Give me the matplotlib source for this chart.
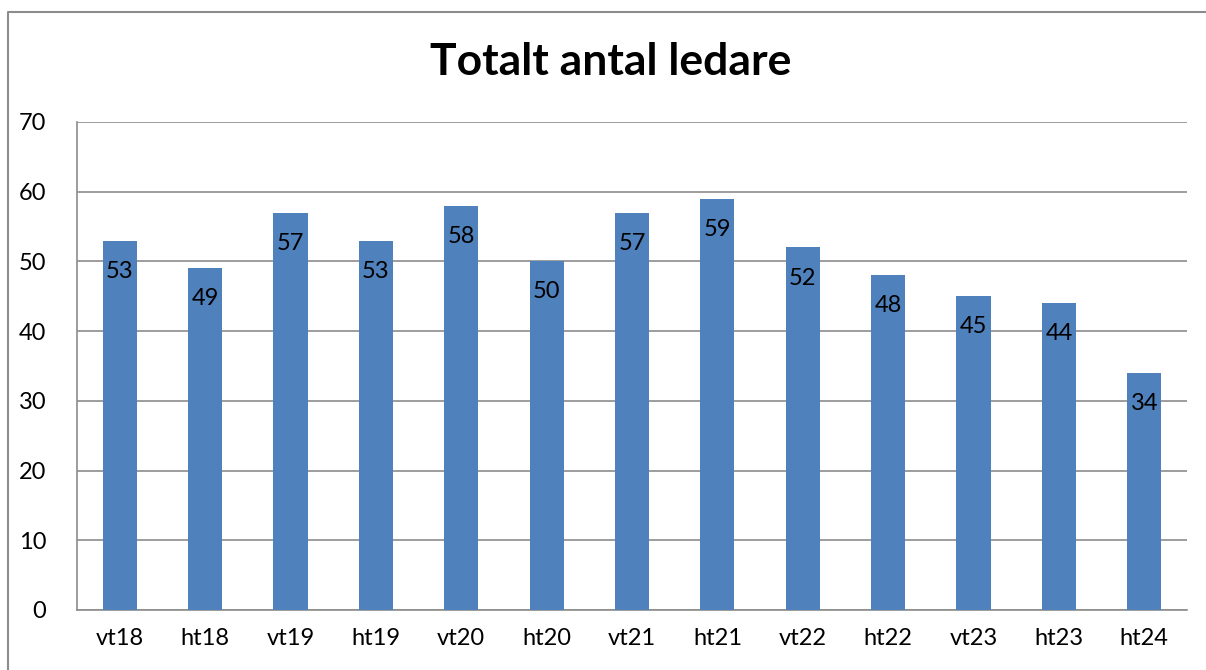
import matplotlib
matplotlib.use("Agg")
import matplotlib.pyplot as plt
from matplotlib.lines import Line2D

categories = ["vt18", "ht18", "vt19", "ht19", "vt20", "ht20", "vt21", "ht21",
              "vt22", "ht22", "vt23", "ht23", "ht24"]
values = [53, 49, 57, 53, 58, 50, 57, 59, 52, 48, 45, 44, 34]
yticks = [0, 10, 20, 30, 40, 50, 60, 70]
title = "Totalt antal ledare"

plt.rcParams['font.family'] = ['Lato', 'DejaVu Sans']
W, H = 1206, 670
fig = plt.figure(figsize=(W / 100, H / 100), dpi=100)

# outer frame (cropped on right and bottom): left and top edges only
fx, fy = 8 / W, 1 - 12 / H
fig.lines.append(Line2D([fx, fx, 1.0], [0.0, fy, fy], transform=fig.transFigure,
                        color='#8c8c8c', linewidth=1.5))

ax = fig.add_axes([77 / W, 1 - 610 / H, (1187 - 77) / W, (610 - 122) / H])
x = range(len(categories))
ax.bar(x, values, width=0.4, color='#4F81BD', zorder=3)
ax.set_xlim(-0.5, len(categories) - 0.5)
ax.set_ylim(0, 70)
ax.set_yticks(yticks)
ax.set_xticks(list(x))
ax.set_xticklabels(categories)
ax.tick_params(axis='both', length=0, labelsize=17, colors='black')
ax.tick_params(axis='y', pad=22)
ax.tick_params(axis='x', pad=13)
ax.grid(axis='y', color='#8c8c8c', linewidth=1.2, zorder=0)
for s in ['top', 'right']:
    ax.spines[s].set_visible(False)
for s in ['left', 'bottom']:
    ax.spines[s].set_color('#8c8c8c')
    ax.spines[s].set_linewidth(1.2)

for xi, v in zip(x, values):
    ax.annotate(str(v), (xi, v), xytext=(0, -22), textcoords='offset points',
                ha='center', va='center', fontsize=17, color='black', zorder=4)

fig.text(611 / W, 1 - 62 / H, title, ha='center', va='center',
         fontsize=32, fontweight='bold')

fig.savefig("out.png", dpi=100)
